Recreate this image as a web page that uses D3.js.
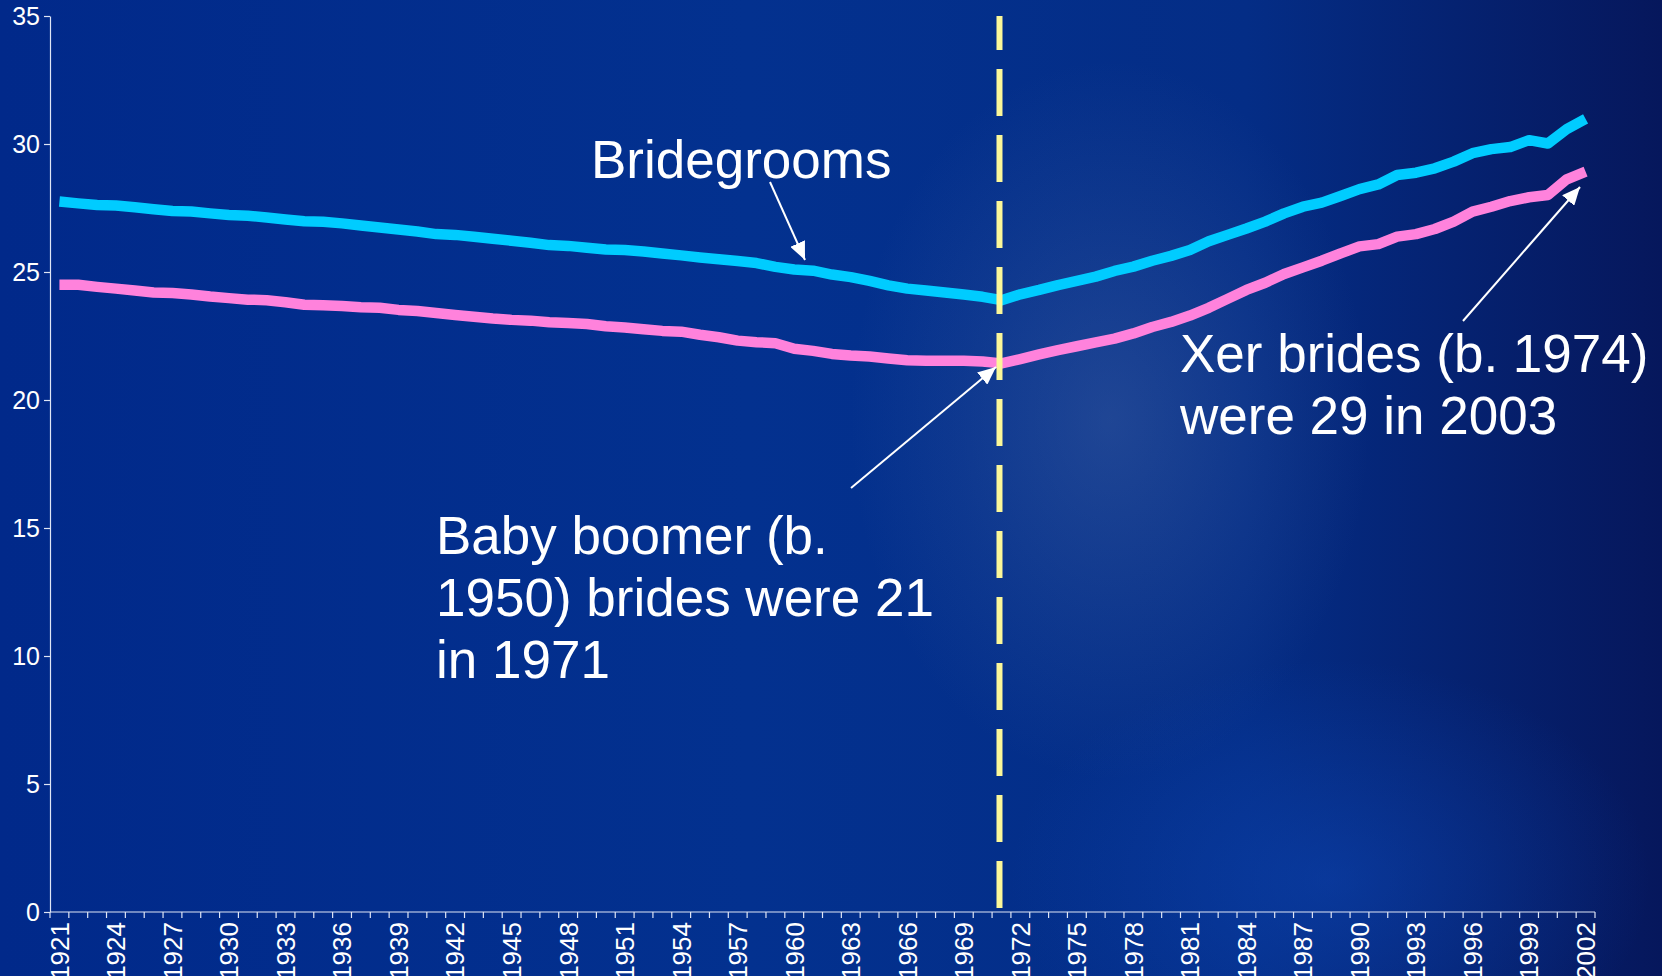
<!DOCTYPE html>
<html>
<head>
<meta charset="utf-8">
<script src="https://cdn.jsdelivr.net/npm/d3@7"></script>
<style>
  body { margin: 0; background: #01298a; overflow: hidden; }
  text { font-family: "Liberation Sans", Arial, sans-serif; fill: #fff; }
</style>
</head>
<body>
<svg id="chart" width="1662" height="976"></svg>
<script>
// years on the category axis
var years = [1921,1922,1923,1924,1925,1926,1927,1928,1929,1930,
  1931,1932,1933,1934,1935,1936,1937,1938,1939,1940,
  1941,1942,1943,1944,1945,1946,1947,1948,1949,1950,
  1951,1952,1953,1954,1955,1956,1957,1958,1959,1960,
  1961,1962,1963,1964,1965,1966,1967,1968,1969,1970,
  1971,1972,1973,1974,1975,1976,1977,1978,1979,1980,
  1981,1982,1983,1984,1985,1986,1987,1988,1989,1990,
  1991,1992,1993,1994,1995,1996,1997,1998,1999,2000,
  2001,2002];

// average age at first marriage
var bridegrooms = [27.75,27.68,27.62,27.6,27.53,27.45,27.38,27.36,27.29,27.23,
  27.2,27.13,27.05,26.98,26.96,26.9,26.82,26.74,26.66,26.58,
  26.48,26.45,26.38,26.3,26.22,26.14,26.05,26.02,25.95,25.88,
  25.86,25.8,25.72,25.65,25.57,25.5,25.43,25.35,25.2,25.1,
  25.05,24.9,24.8,24.65,24.48,24.35,24.28,24.2,24.12,24.03,
  23.9,24.13,24.3,24.49,24.65,24.82,25.04,25.21,25.44,25.63,
  25.86,26.2,26.45,26.7,26.97,27.29,27.55,27.71,27.97,28.24,
  28.42,28.79,28.88,29.05,29.31,29.64,29.8,29.88,30.15,30.02,
  30.58,30.98];

var brides = [24.5,24.5,24.42,24.35,24.28,24.2,24.18,24.12,24.04,23.98,
  23.92,23.9,23.82,23.72,23.7,23.67,23.62,23.6,23.52,23.48,
  23.4,23.32,23.25,23.18,23.13,23.1,23.04,23.01,22.97,22.88,
  22.83,22.76,22.7,22.67,22.55,22.45,22.32,22.26,22.22,22.0,
  21.92,21.8,21.74,21.7,21.62,21.55,21.53,21.53,21.53,21.5,
  21.43,21.6,21.78,21.95,22.1,22.25,22.4,22.6,22.85,23.05,
  23.3,23.6,23.95,24.3,24.58,24.92,25.18,25.44,25.73,26.0,
  26.09,26.38,26.48,26.68,26.97,27.36,27.55,27.77,27.92,28.01,
  28.62,28.92];

var yTicks = [0, 5, 10, 15, 20, 25, 30, 35];
var xTickLabels = [1921,1924,1927,1930,1933,1936,1939,1942,1945,1948,
  1951,1954,1957,1960,1963,1966,1969,1972,1975,1978,
  1981,1984,1987,1990,1993,1996,1999,2002];
var markerYear = 1971;

var svg = d3.select('#chart');
var W = 1662, H = 976;

// background
var defs = svg.append('defs');
var bg = defs.append('linearGradient').attr('id', 'bgLin')
  .attr('x1', 0).attr('y1', 0).attr('x2', 1).attr('y2', 0);
bg.append('stop').attr('offset', '0%').attr('stop-color', '#01298a');
bg.append('stop').attr('offset', '45%').attr('stop-color', '#03318f');
bg.append('stop').attr('offset', '75%').attr('stop-color', '#042d86');
bg.append('stop').attr('offset', '100%').attr('stop-color', '#06175c');

var glow = defs.append('radialGradient').attr('id', 'glow');
glow.append('stop').attr('offset', '0%').attr('stop-color', 'rgb(90,120,175)').attr('stop-opacity', 0.32);
glow.append('stop').attr('offset', '60%').attr('stop-color', 'rgb(90,120,175)').attr('stop-opacity', 0.12);
glow.append('stop').attr('offset', '100%').attr('stop-color', 'rgb(90,120,175)').attr('stop-opacity', 0);

var glow2 = defs.append('radialGradient').attr('id', 'glow2');
glow2.append('stop').attr('offset', '0%').attr('stop-color', 'rgb(15,75,190)').attr('stop-opacity', 0.45);
glow2.append('stop').attr('offset', '100%').attr('stop-color', 'rgb(15,75,190)').attr('stop-opacity', 0);

svg.append('rect').attr('width', W).attr('height', H).attr('fill', 'url(#bgLin)');
svg.append('ellipse').attr('cx', 1110).attr('cy', 420).attr('rx', 260).attr('ry', 360).attr('fill', 'url(#glow)');
svg.append('ellipse').attr('cx', 1330).attr('cy', 880).attr('rx', 320).attr('ry', 220).attr('fill', 'url(#glow2)');

// arrow head
defs.append('marker').attr('id', 'head')
  .attr('viewBox', '0 -8 18 16')
  .attr('refX', 18).attr('refY', 0)
  .attr('markerWidth', 18).attr('markerHeight', 16)
  .attr('markerUnits', 'userSpaceOnUse')
  .attr('orient', 'auto')
  .append('path').attr('d', 'M0,-8L18,0L0,8Z').attr('fill', '#fff');

// scales
var x = d3.scaleBand().domain(years).range([50, 1595]).padding(0);
var y = d3.scaleLinear().domain([0, 35]).range([912, 16]);
var bw = x.bandwidth();
var cx = function(d) { return x(d) + bw / 2; };

// y axis
var yAxis = svg.append('g').attr('transform', 'translate(50,0)')
  .call(d3.axisLeft(y).tickValues(yTicks).tickSize(6).tickSizeOuter(0).tickPadding(4));
yAxis.selectAll('path, line').attr('stroke', '#dfe5f5').attr('stroke-width', 1.2);
yAxis.selectAll('text').attr('font-size', 25).attr('fill', '#fff')
  .style('font-family', '"Liberation Sans", Arial, sans-serif');

// x axis: ticks between categories, labels every third year
var xAxis = svg.append('g');
xAxis.append('line').attr('x1', 50).attr('x2', 1595).attr('y1', 912).attr('y2', 912)
  .attr('stroke', '#dfe5f5').attr('stroke-width', 1.2);
xAxis.selectAll('line.tick').data(years.concat([null])).enter().append('line')
  .attr('class', 'tick')
  .attr('x1', function(d) { return d === null ? x.range()[1] : x(d); })
  .attr('x2', function(d) { return d === null ? x.range()[1] : x(d); })
  .attr('y1', 912).attr('y2', 918)
  .attr('stroke', '#dfe5f5').attr('stroke-width', 1.2);
xAxis.selectAll('text').data(xTickLabels).enter().append('text')
  .attr('transform', function(d) { return 'translate(' + cx(d) + ',922) rotate(-90)'; })
  .attr('text-anchor', 'end').attr('dy', '0.36em')
  .attr('font-size', 26)
  .text(function(d) { return d; });

// lines
var line = d3.line()
  .x(function(d, i) { return cx(years[i]); })
  .y(function(d) { return y(d); });

svg.append('path').datum(bridegrooms).attr('d', line)
  .attr('fill', 'none').attr('stroke', '#00ccff').attr('stroke-width', 10.5)
  .attr('stroke-linejoin', 'round');
svg.append('path').datum(brides).attr('d', line)
  .attr('fill', 'none').attr('stroke', '#ff82dc').attr('stroke-width', 10.5)
  .attr('stroke-linejoin', 'round');

// dashed marker at 1971
svg.append('line')
  .attr('x1', cx(markerYear) - 2).attr('x2', cx(markerYear) - 2)
  .attr('y1', y(35)).attr('y2', y(0))
  .attr('stroke', '#fbf799').attr('stroke-width', 6)
  .attr('stroke-dasharray', '47,19').attr('stroke-dashoffset', 13);

// annotations
var notes = [
  { lines: ['Bridegrooms'], x: 591, y: 178 },
  { lines: ['Baby boomer (b.', '1950) brides were 21', 'in 1971'], x: 436, y: 554 },
  { lines: ['Xer brides (b. 1974)', 'were 29 in 2003'], x: 1180, y: 372 }
];
var arrows = [
  { x1: 770, y1: 182, x2: 805, y2: 260 },
  { x1: 851, y1: 488, x2: 996, y2: 367 },
  { x1: 1463, y1: 321, x2: 1580, y2: 187 }
];

svg.selectAll('line.arrow').data(arrows).enter().append('line')
  .attr('class', 'arrow')
  .attr('x1', function(d) { return d.x1; }).attr('y1', function(d) { return d.y1; })
  .attr('x2', function(d) { return d.x2; }).attr('y2', function(d) { return d.y2; })
  .attr('stroke', '#fff').attr('stroke-width', 2)
  .attr('marker-end', 'url(#head)');

notes.forEach(function(n) {
  var t = svg.append('text').attr('x', n.x).attr('y', n.y).attr('font-size', 53);
  n.lines.forEach(function(s, i) {
    t.append('tspan').attr('x', n.x).attr('y', n.y + i * 62).text(s);
  });
});
</script>
</body>
</html>
